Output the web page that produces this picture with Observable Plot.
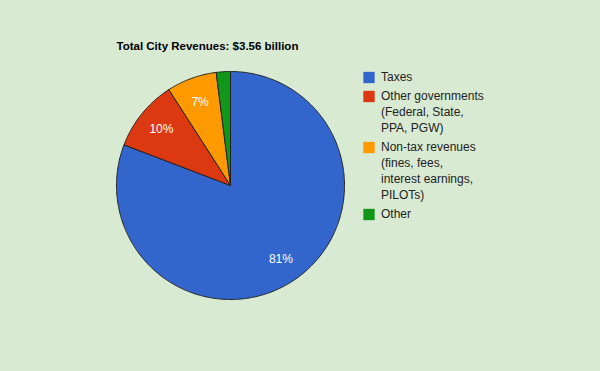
<!DOCTYPE html>
<html><head><meta charset="utf-8">
<script src="https://cdn.jsdelivr.net/npm/d3@7"></script>
<script src="https://cdn.jsdelivr.net/npm/@observablehq/plot@0.6"></script>
<style>
html,body{margin:0;padding:0;background:#d9ead3;overflow:hidden;}
#chart svg{display:block;}
</style></head><body><div id="chart"></div>
<script>
const title = "Total City Revenues: $3.56 billion";
const categories = ["Taxes", "Other governments", "Non-tax revenues", "Other"];
const legendLines = [
  ["Taxes"],
  ["Other governments", "(Federal, State,", "PPA, PGW)"],
  ["Non-tax revenues", "(fines, fees,", "interest earnings,", "PILOTs)"],
  ["Other"]
];
const shares = [80.8, 10.1, 7.1, 2.0];
const colors = ["#3366cc", "#dc3912", "#ff9900", "#109618"];

// layout (pixels)
const W = 600, H = 371, cx = 230, cy = 185, R = 114;
const px = v => (v - cx) / R;   // pixel x -> data x
const py = v => (cy - v) / R;   // pixel y -> data y

// slices as closed polygons from d3.pie angles (clockwise from 12 o'clock)
const arcs = d3.pie().sort(null).value(d => d)(shares);
const slicePts = [];
arcs.forEach((a, i) => {
  const cat = categories[i];
  slicePts.push({cat, x: 0, y: 0});
  const n = Math.max(2, Math.ceil((a.endAngle - a.startAngle) / 0.01));
  for (let k = 0; k <= n; k++) {
    const t = a.startAngle + (a.endAngle - a.startAngle) * k / n;
    slicePts.push({cat, x: Math.sin(t), y: Math.cos(t)});
  }
  slicePts.push({cat, x: 0, y: 0});
});

const sliceLabels = arcs
  .map((a, i) => ({mid: (a.startAngle + a.endAngle) / 2, v: shares[i]}))
  .filter(d => d.v >= 5)
  .map(d => ({x: 0.78 * Math.sin(d.mid), y: 0.78 * Math.cos(d.mid), text: Math.round(d.v) + "%"}));

// legend rows
const legendSw = [], legendTx = [];
let rowY = 77;
legendLines.forEach((lines, i) => {
  legendSw.push({cat: categories[i], x: px(368.5), y: py(rowY)});
  lines.forEach((t, j) => legendTx.push({text: t, x: px(380.5), y: py(rowY + j * 16)}));
  rowY += lines.length * 16 + 3;
});

const chart = Plot.plot({
  width: W, height: H, margin: 0,
  style: {background: "#d9ead3", fontFamily: "Arial, 'Liberation Sans', sans-serif"},
  x: {domain: [px(0), px(W)], axis: null},
  y: {domain: [py(H), py(0)], axis: null},
  color: {domain: categories, range: colors},
  marks: [
    Plot.line(slicePts, {x: "x", y: "y", z: "cat", fill: "cat", stroke: "#222", strokeWidth: 1, strokeLinejoin: "round"}),
    Plot.text(sliceLabels, {x: "x", y: "y", text: "text", fill: "white", fontSize: 12, lineAnchor: "middle"}),
    Plot.dot(legendSw, {x: "x", y: "y", fill: "cat", symbol: "square", r: 6.4, stroke: null}),
    Plot.text(legendTx, {x: "x", y: "y", text: "text", textAnchor: "start", lineAnchor: "middle", fontSize: 12, fill: "#222"}),
    Plot.text([title], {x: px(116), y: py(45.5), text: d => d, textAnchor: "start", lineAnchor: "middle", fontSize: 11.5, fontWeight: "bold", fill: "#000"})
  ]
});
document.getElementById("chart").append(chart);
</script>
</body></html>
